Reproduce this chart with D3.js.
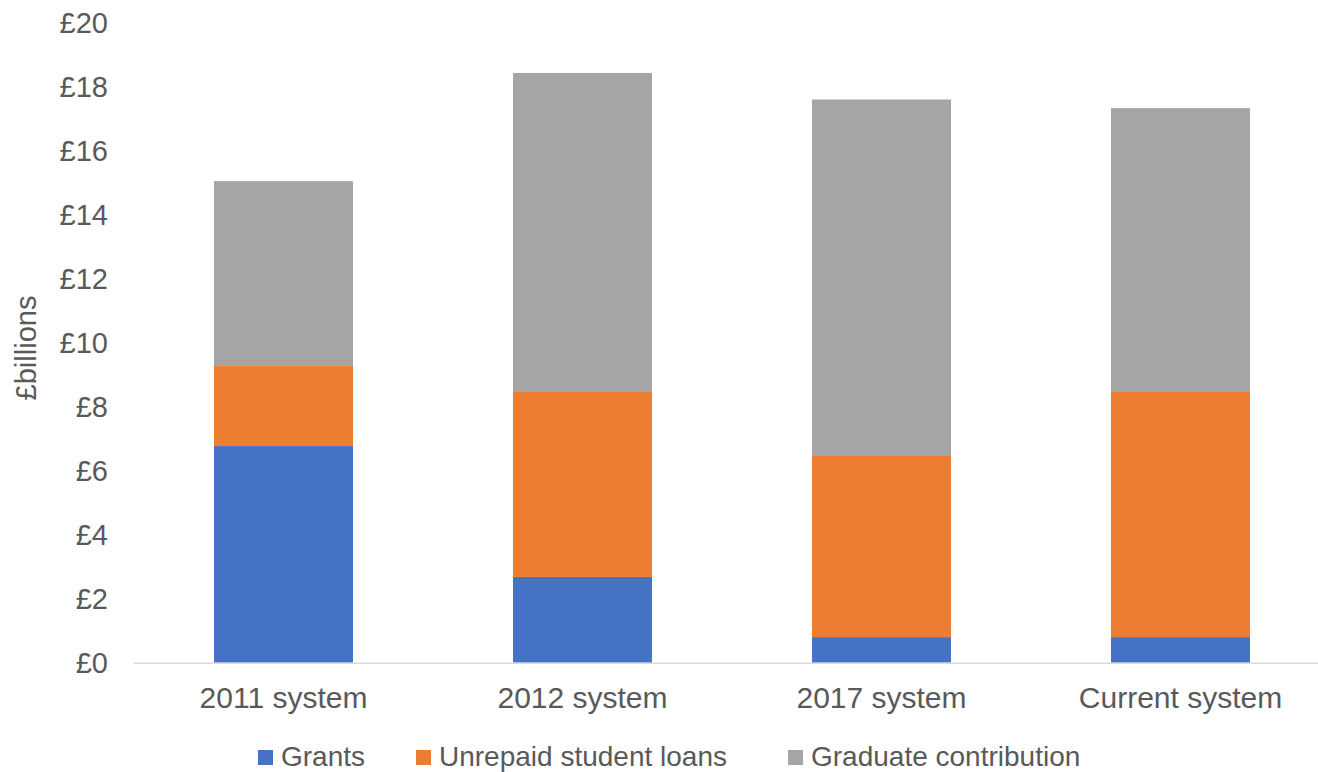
<!DOCTYPE html>
<html>
<head>
<meta charset="utf-8">
<script src="https://cdn.jsdelivr.net/npm/d3@7"></script>
<style>
  body { margin: 0; background: #fff; }
  text { font-family: "Liberation Sans", Arial, sans-serif; fill: #595959; }
</style>
</head>
<body>
<svg id="chart"></svg>
<script>
const categories = ["2011 system", "2012 system", "2017 system", "Current system"];
const grants = [6.77, 2.68, 0.8, 0.8];
const unrepaidLoans = [2.5, 5.78, 5.66, 7.66];
const graduateContribution = [5.78, 9.97, 11.14, 8.87];
const seriesNames = ["Grants", "Unrepaid student loans", "Graduate contribution"];
const yTicks = [0, 2, 4, 6, 8, 10, 12, 14, 16, 18, 20];

const width = 1318;
const height = 772;
const colors = ["#4472c4", "#ed7d31", "#a5a5a5"];

const rows = categories.map((c, i) => ({
  cat: c,
  "Grants": grants[i],
  "Unrepaid student loans": unrepaidLoans[i],
  "Graduate contribution": graduateContribution[i]
}));

const svg = d3.select("#chart").attr("width", width).attr("height", height);

const x = d3.scaleBand()
  .domain(categories)
  .range([134, 1330])
  .paddingInner(0.535)
  .paddingOuter(0.2675);

const y = d3.scaleLinear().domain([0, 20]).range([662.7, 22.7]);

const color = d3.scaleOrdinal().domain(seriesNames).range(colors);

// y tick labels
svg.append("g")
  .selectAll("text")
  .data(yTicks)
  .enter().append("text")
  .attr("x", 108)
  .attr("y", (d) => y(d))
  .attr("dy", "0.35em")
  .style("text-anchor", "end")
  .style("font-size", "29px")
  .text((d) => "£" + d);

// y axis title
svg.append("text")
  .attr("transform", `translate(36, 348) rotate(-90)`)
  .style("text-anchor", "middle")
  .style("font-size", "29px")
  .text("£billions");

const stack = d3.stack().keys(seriesNames);
const layers = svg.append("g")
  .selectAll("g")
  .data(stack(rows))
  .enter().append("g")
  .attr("fill", (d) => color(d.key));

layers.selectAll("rect")
  .data((d) => d)
  .enter().append("rect")
  .attr("x", (d) => x(d.data.cat))
  .attr("width", x.bandwidth())
  .attr("y", (d) => y(d[1]))
  .attr("height", (d) => y(d[0]) - y(d[1]));

// baseline
svg.append("line")
  .attr("x1", 134)
  .attr("x2", width)
  .attr("y1", y(0) + 0.5)
  .attr("y2", y(0) + 0.5)
  .attr("stroke", "#d9d9d9")
  .attr("stroke-width", 1.5);

// category labels
svg.append("g")
  .selectAll("text")
  .data(categories)
  .enter().append("text")
  .attr("x", (d) => x(d) + x.bandwidth() / 2)
  .attr("y", 708)
  .style("text-anchor", "middle")
  .style("font-size", "30px")
  .text((d) => d);

// legend
const legendX = [258, 416, 788];
const legend = svg.append("g")
  .selectAll("g")
  .data(seriesNames)
  .enter().append("g")
  .attr("transform", (d, i) => `translate(${legendX[i]}, 756)`);

legend.append("rect")
  .attr("x", 0)
  .attr("y", -6)
  .attr("width", 15)
  .attr("height", 15)
  .attr("fill", (d) => color(d));

legend.append("text")
  .attr("x", 23)
  .attr("y", 0)
  .attr("dy", "0.35em")
  .style("font-size", "28px")
  .text((d) => d);
</script>
</body>
</html>
